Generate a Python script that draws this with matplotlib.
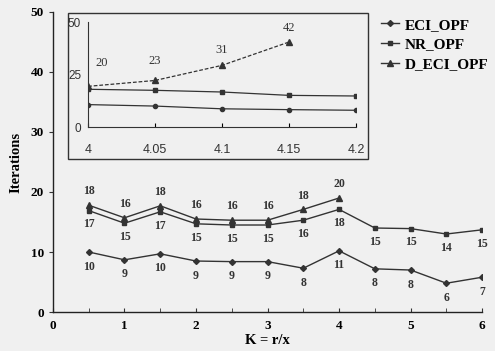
import matplotlib
matplotlib.use('Agg')
import matplotlib.pyplot as plt
from matplotlib.patches import Rectangle

plt.rcParams['font.family'] = ['Liberation Serif', 'DejaVu Serif']

# main chart data (marker heights, labels as printed)
k_vals = [0.5, 1, 1.5, 2, 2.5, 3, 3.5, 4, 4.5, 5, 5.5, 6]
eci_y = [10.0, 8.7, 9.7, 8.5, 8.4, 8.4, 7.3, 10.2, 7.2, 7.0, 4.8, 5.8]
eci_lbl = [10, 9, 10, 9, 9, 9, 8, 11, 8, 8, 6, 7]
nr_y = [16.9, 14.8, 16.7, 14.7, 14.5, 14.5, 15.3, 17.1, 14.0, 13.9, 13.0, 13.7]
nr_lbl = [17, 15, 17, 15, 15, 15, 16, 18, 15, 15, 14, 15]
k_d = [0.5, 1, 1.5, 2, 2.5, 3, 3.5, 4]
d_y = [17.8, 15.7, 17.7, 15.5, 15.3, 15.3, 17.1, 19.0]
d_lbl = [18, 16, 18, 16, 16, 16, 18, 20]

# inset (zoom on K = 4 .. 4.2)
k_in = [4, 4.05, 4.1, 4.15, 4.2]
eci_in = [10.7, 10.0, 8.7, 8.3, 8.0]
nr_in = [18.0, 17.5, 16.7, 15.1, 14.8]
k_in_d = [4, 4.05, 4.1, 4.15]
d_in = [19.4, 22.2, 29.4, 40.5]
d_in_lbl = [20, 23, 31, 42]

LC = '#333333'
bg = '#f0f0f0'

fig = plt.figure(figsize=(4.95, 3.51), dpi=100, facecolor=bg)
ax = fig.add_axes([0.107, 0.111, 0.867, 0.855], facecolor=bg)

l1, = ax.plot(k_vals, eci_y, color=LC, lw=1.0, marker='D', ms=3, label='ECI_OPF')
l2, = ax.plot(k_vals, nr_y, color=LC, lw=1.0, marker='s', ms=3.5, label='NR_OPF')
l3, = ax.plot(k_d, d_y, color=LC, lw=1.0, marker='^', ms=4, label='D_ECI_OPF')

lbl_kw = dict(textcoords='offset points', ha='center', va='center',
              fontsize=8.5, fontweight='bold', color='#333333')
for x, y, t in zip(k_vals, eci_y, eci_lbl):
    ax.annotate(str(t), (x, y), xytext=(0, -10.5), **lbl_kw)
for x, y, t in zip(k_vals, nr_y, nr_lbl):
    ax.annotate(str(t), (x, y), xytext=(0, -10), **lbl_kw)
for x, y, t in zip(k_d, d_y, d_lbl):
    ax.annotate(str(t), (x, y), xytext=(0, 10), **lbl_kw)

ax.set_xlim(0, 6)
ax.set_ylim(0, 50)
ax.set_xticks(range(7))
ax.set_xticks([0.5, 1.5, 2.5, 3.5, 4.5, 5.5], minor=True)
ax.set_yticks(range(0, 51, 10))
for s in ['top', 'right']:
    ax.spines[s].set_visible(False)
for s in ['left', 'bottom']:
    ax.spines[s].set_color('#222222')
    ax.spines[s].set_linewidth(1.0)
ax.tick_params(axis='x', which='both', direction='in', length=3, color='#333333',
               labelsize=9.5, pad=6)
ax.tick_params(axis='y', direction='out', length=3, color='#333333', labelsize=9.5)
for t in ax.get_xticklabels() + ax.get_yticklabels():
    t.set_fontweight('bold')
ax.set_xlabel('K = r/x', fontsize=10.5, fontweight='bold', labelpad=1)
ax.set_ylabel('Iterations', fontsize=10.5, fontweight='bold', labelpad=6)

# frame around the inset
frame = Rectangle((0.137, 0.547), 0.606, 0.416, transform=fig.transFigure,
                  fill=True, facecolor=bg, edgecolor='#333333', lw=1.0, zorder=1)
fig.patches.append(frame)

ins = fig.add_axes([0.178, 0.638, 0.541, 0.299], facecolor='none')
ins.set_zorder(3)
ins.plot(k_in, eci_in, color=LC, lw=0.9, marker='o', ms=3)
ins.plot(k_in, nr_in, color=LC, lw=0.9, marker='s', ms=3.5)
ins.plot(k_in_d, d_in, color=LC, lw=0.9, ls='--', dashes=(3, 1.5), marker='^', ms=4)
in_offsets = [(10, 17), (0, 14), (0, 11), (0, 10)]
for x, y, t, off in zip(k_in_d, d_in, d_in_lbl, in_offsets):
    ins.annotate(str(t), (x, y), xytext=off, textcoords='offset points',
                 ha='center', va='center', fontsize=9, color='#333333')
ins.set_xlim(4, 4.2)
ins.set_ylim(0, 50)
ins.set_xticks(k_in)
ins.set_xticklabels(['4', '4.05', '4.1', '4.15', '4.2'])
ins.set_yticks([0, 25, 50])
for s in ['top', 'right']:
    ins.spines[s].set_visible(False)
for s in ['left', 'bottom']:
    ins.spines[s].set_color('#333333')
ins.tick_params(axis='x', direction='in', length=3, pad=12, labelsize=9)
ins.tick_params(axis='y', direction='in', length=0, pad=5, labelsize=8.5)
for t in ins.get_xticklabels() + ins.get_yticklabels():
    t.set_family(['Liberation Sans', 'DejaVu Sans'])
    t.set_color('#333333')

fig.legend(handles=[l1, l2, l3], loc='upper left', bbox_to_anchor=(0.757, 0.966),
           frameon=False, prop={'size': 11, 'weight': 'bold'},
           handlelength=1.2, handletextpad=0.35,
           labelspacing=0.4, borderaxespad=0)

fig.savefig('out.png', dpi=100, facecolor=bg)
